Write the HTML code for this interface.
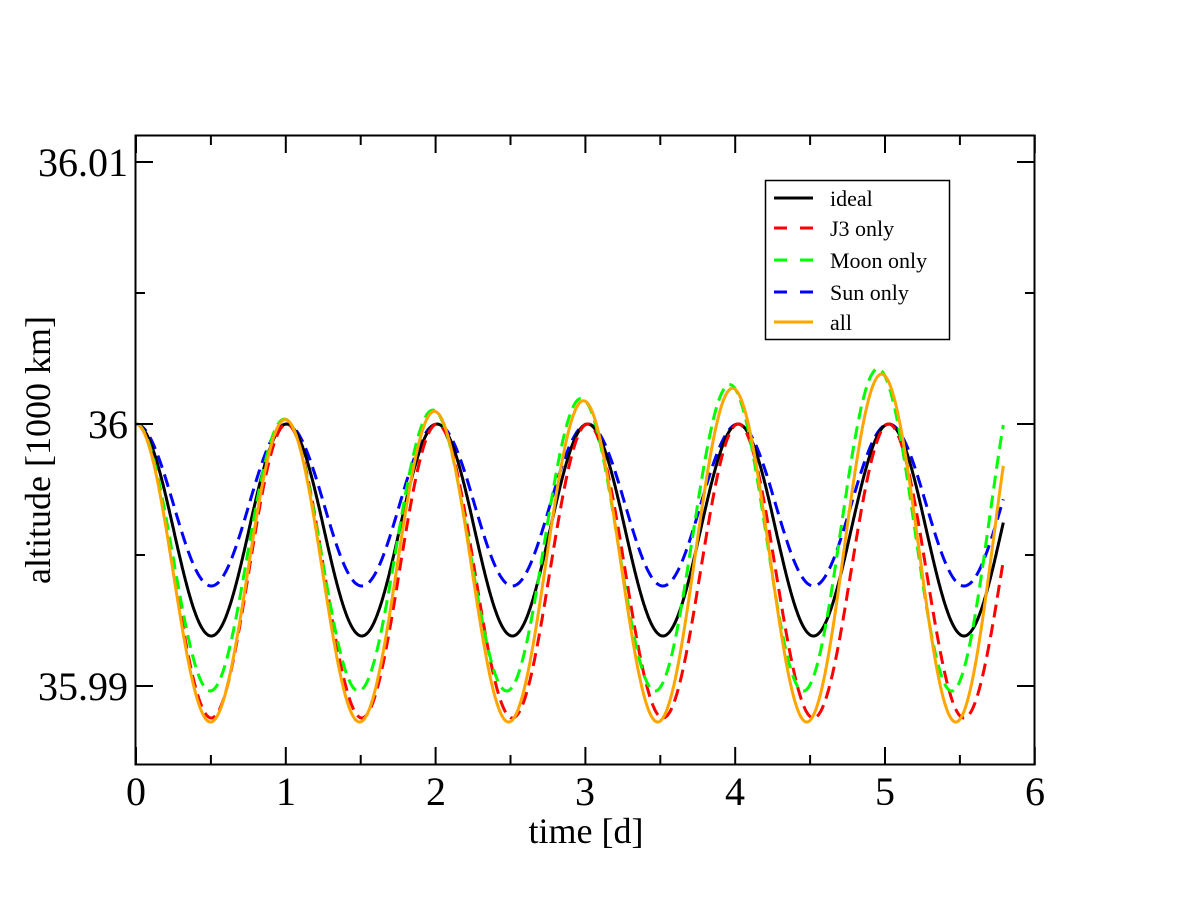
<!DOCTYPE html>
<html><head><meta charset="utf-8"><style>
html,body{margin:0;padding:0;background:#fff;}
svg{display:block;}
text{font-family:"Liberation Serif",serif;fill:#000;}
</style></head><body>
<svg id="s" width="1200" height="900" viewBox="0 0 1200 900" xmlns="http://www.w3.org/2000/svg">
<rect x="0" y="0" width="1200" height="900" fill="#fff"/>
<g id="curves" fill="none" stroke-width="3"></g>
<rect x="135.5" y="135.5" width="899" height="629" fill="none" stroke="#000" stroke-width="2"/>
<g id="ticks" stroke="#000" stroke-width="2"></g>
<g font-size="40" text-anchor="middle" font-family="Liberation Serif, serif">
<text x="136" y="805">0</text><text x="286" y="805">1</text><text x="436" y="805">2</text>
<text x="585" y="805">3</text><text x="735" y="805">4</text><text x="885" y="805">5</text><text x="1035" y="805">6</text>
</g>
<g font-size="40" text-anchor="end" font-family="Liberation Serif, serif">
<text x="128" y="176">36.01</text><text x="128" y="438">36</text><text x="128" y="700">35.99</text>
</g>
<text x="586" y="843" font-size="36" text-anchor="middle" font-family="Liberation Serif, serif">time [d]</text>
<text transform="translate(50,450) rotate(-90)" font-size="36" text-anchor="middle" font-family="Liberation Serif, serif">altitude [1000 km]</text>
<rect x="765.5" y="180.5" width="184" height="159" fill="#fff" stroke="#000" stroke-width="1.5"/>
<g stroke-width="3">
<line x1="774" y1="198" x2="813" y2="198" stroke="#000"/>
<line x1="774" y1="228" x2="813" y2="228" stroke="#f00" stroke-dasharray="13,13"/>
<line x1="774" y1="260" x2="813" y2="260" stroke="#0f0" stroke-dasharray="13,13"/>
<line x1="774" y1="292" x2="813" y2="292" stroke="#00f" stroke-dasharray="13,13"/>
<line x1="774" y1="322" x2="813" y2="322" stroke="#ffa500"/>
</g>
<g font-size="22" font-family="Liberation Serif, serif">
<text x="830" y="206">ideal</text><text x="830" y="236">J3 only</text>
<text x="830" y="268">Moon only</text><text x="830" y="300">Sun only</text><text x="830" y="330">all</text>
</g>
</svg>
<script>
var X=function(t){return 136+t*149.8;};
var tk='';
for(var i=0;i<=12;i++){var x=136+i*74.9;var L=(i%2==0)?18:10;
tk+='<line x1="'+x+'" y1="765" x2="'+x+'" y2="'+(765-L)+'"/><line x1="'+x+'" y1="135" x2="'+x+'" y2="'+(135+L)+'"/>';}
[162,293,424,555,686].forEach(function(y,i){var L=(i%2==0)?18:10;
tk+='<line x1="135" y1="'+y+'" x2="'+(135+L)+'" y2="'+y+'"/><line x1="1035" y1="'+y+'" x2="'+(1035-L)+'" y2="'+y+'"/>';});
document.getElementById('ticks').innerHTML=tk;
function curve(bottom,depth,period,dc,color,dash){
 var d='';for(var t=0;t<=5.79;t+=0.005){
  var drift=dc*Math.pow(t,1.5);
  var y=bottom-(depth+drift)*(1+Math.cos(2*Math.PI*t/period))/2;
  d+=(d?'L':'M')+X(t).toFixed(1)+','+y.toFixed(1);}
 return '<path d="'+d+'" stroke="'+color+'"'+(dash?' stroke-dasharray="13,7"':'')+'/>';}
var c='';
c+=curve(586,162,1.005,0,'#00f',true);
c+=curve(636,212,1.005,0,'#000',false);
c+=curve(718,294,1.005,0,'#f00',true);
c+=curve(691,267,0.99,5,'#0f0',true);
c+=curve(722,298,0.995,4.5,'#ffa500',false);
document.getElementById('curves').innerHTML=c;
</script>
</body></html>
